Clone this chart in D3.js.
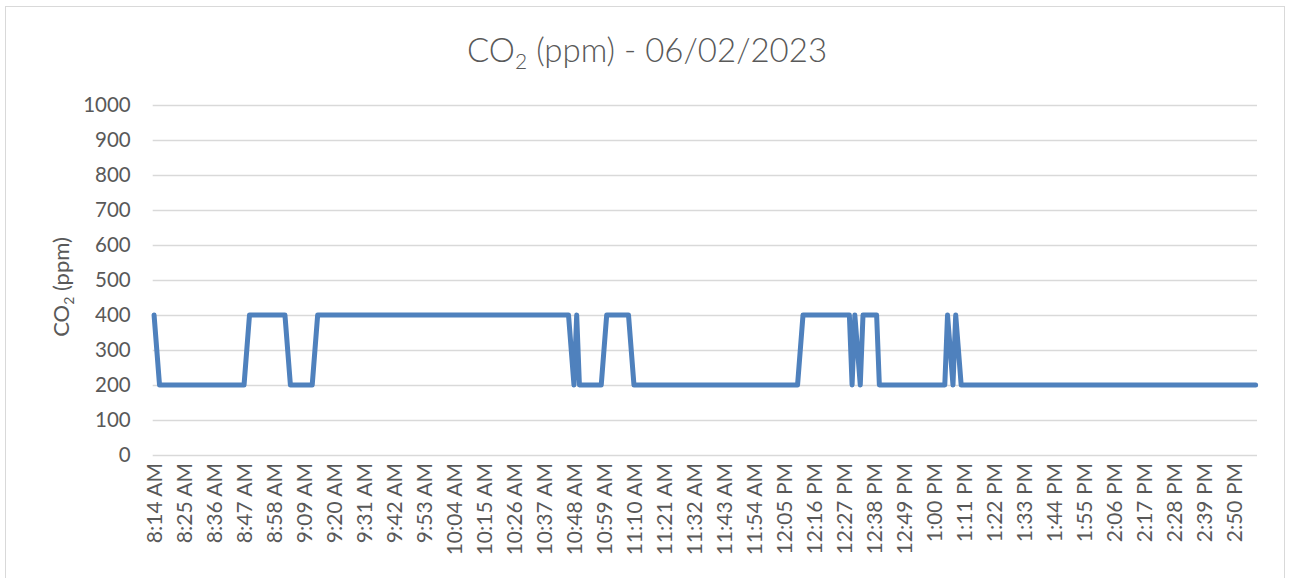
<!DOCTYPE html>
<html>
<head>
<meta charset="utf-8">
<script src="https://cdn.jsdelivr.net/npm/d3@7"></script>
<style>
  html, body { margin: 0; padding: 0; background: #ffffff; }
  svg { display: block; }
  text { font-family: Lato, "Open Sans", sans-serif; fill: #595959; }
</style>
</head>
<body>
<svg id="chart" width="1290" height="578"></svg>
<script>
// ---- Data ----
// Reading times (1-minute categories from 8:14 AM to 2:58 PM) where the CO2 level changes
const changeTimes = [
  "8:14 AM", "8:16 AM", "8:47 AM", "8:49 AM", "9:02 AM", "9:04 AM", "9:12 AM", "9:14 AM",
  "10:46 AM", "10:48 AM", "10:49 AM", "10:50 AM", "10:58 AM", "11:00 AM", "11:08 AM", "11:10 AM",
  "12:10 PM", "12:12 PM", "12:29 PM", "12:30 PM", "12:31 PM", "12:33 PM", "12:34 PM", "12:39 PM",
  "12:40 PM", "1:04 PM", "1:05 PM", "1:07 PM", "1:08 PM", "1:10 PM", "2:58 PM"
];
const co2Values = [
  400, 200, 200, 400, 400, 200, 200, 400,
  400, 200, 400, 200, 200, 400, 400, 200,
  200, 400, 400, 200, 400, 200, 400, 400,
  200, 200, 400, 200, 400, 200, 200
];
const firstTime = "8:14 AM";
const lastTime = "2:58 PM";
const tickLabels = [
  "8:14 AM", "8:25 AM", "8:36 AM", "8:47 AM", "8:58 AM", "9:09 AM", "9:20 AM", "9:31 AM",
  "9:42 AM", "9:53 AM", "10:04 AM", "10:15 AM", "10:26 AM", "10:37 AM", "10:48 AM", "10:59 AM",
  "11:10 AM", "11:21 AM", "11:32 AM", "11:43 AM", "11:54 AM", "12:05 PM", "12:16 PM", "12:27 PM",
  "12:38 PM", "12:49 PM", "1:00 PM", "1:11 PM", "1:22 PM", "1:33 PM", "1:44 PM", "1:55 PM",
  "2:06 PM", "2:17 PM", "2:28 PM", "2:39 PM", "2:50 PM"
];
const yTicks = [0, 100, 200, 300, 400, 500, 600, 700, 800, 900, 1000];

// ---- Helpers ----
function toMinutes(s) {
  const m = s.match(/(\d+):(\d+)\s*(AM|PM)/);
  let h = +m[1] % 12;
  if (m[3] === "PM") h += 12;
  return h * 60 + (+m[2]);
}
const t0 = toMinutes(firstTime);
const nCats = toMinutes(lastTime) - t0 + 1;

// ---- Layout ----
const svg = d3.select("#chart");
const plot = { left: 152.7, right: 1257, top: 105, bottom: 455 };
const catW = (plot.right - plot.left) / nCats;

const x = d3.scaleLinear()
  .domain([0, nCats - 1])
  .range([plot.left + catW / 2, plot.right - catW / 2]);
const y = d3.scaleLinear().domain([0, 1000]).range([plot.bottom, plot.top]);

// outer chart border
svg.append("rect")
  .attr("x", 5.5).attr("y", 6.5).attr("width", 1279).attr("height", 620)
  .attr("fill", "#ffffff").attr("stroke", "#d9d9d9").attr("stroke-width", 1);

// title
const title = svg.append("text")
  .attr("x", 647).attr("y", 62)
  .attr("text-anchor", "middle")
  .style("font-size", "33px").style("font-weight", "300");
title.append("tspan").text("CO");
title.append("tspan").text("2").attr("dy", 7).style("font-size", "21px");
title.append("tspan").text(" (ppm) - 06/02/2023").attr("dy", -7);

// gridlines + y axis labels
const yAxis = d3.axisLeft(y).tickValues(yTicks).tickFormat(d3.format("d"))
  .tickSize(-(plot.right - plot.left)).tickPadding(22);
const gy = svg.append("g").attr("transform", `translate(${plot.left},0)`).call(yAxis);
gy.select(".domain").remove();
gy.selectAll(".tick line").attr("stroke", "#d9d9d9").attr("stroke-width", 1.3);
gy.selectAll(".tick text").style("font-size", "20.5px").attr("fill", "#595959");

// x axis labels
const tickIdx = tickLabels.map(s => toMinutes(s) - t0);
const xAxis = d3.axisBottom(x).tickValues(tickIdx)
  .tickFormat((d, i) => tickLabels[i]).tickSize(0).tickPadding(0);
const gx = svg.append("g").attr("transform", `translate(0,${plot.bottom})`).call(xAxis);
gx.select(".domain").remove();
gx.selectAll(".tick text")
  .style("font-size", "21px").attr("fill", "#595959")
  .attr("text-anchor", "end")
  .attr("transform", "rotate(-90)")
  .attr("x", -8).attr("y", 0).attr("dy", "0.35em");

// y axis title
const yt = svg.append("text")
  .attr("transform", "translate(69,287) rotate(-90)")
  .attr("text-anchor", "middle")
  .style("font-size", "22px");
yt.append("tspan").text("CO");
yt.append("tspan").text("2").attr("dy", 5).style("font-size", "14px");
yt.append("tspan").text(" (ppm)").attr("dy", -5);

// line
const pts = changeTimes.map((t, i) => ({ i: toMinutes(t) - t0, v: co2Values[i] }));
svg.append("path")
  .datum(pts)
  .attr("fill", "none")
  .attr("stroke", "#4f81bd")
  .attr("stroke-width", 5)
  .attr("stroke-linejoin", "round")
  .attr("stroke-linecap", "round")
  .attr("d", d3.line().x(d => x(d.i)).y(d => y(d.v)));
</script>
</body>
</html>
